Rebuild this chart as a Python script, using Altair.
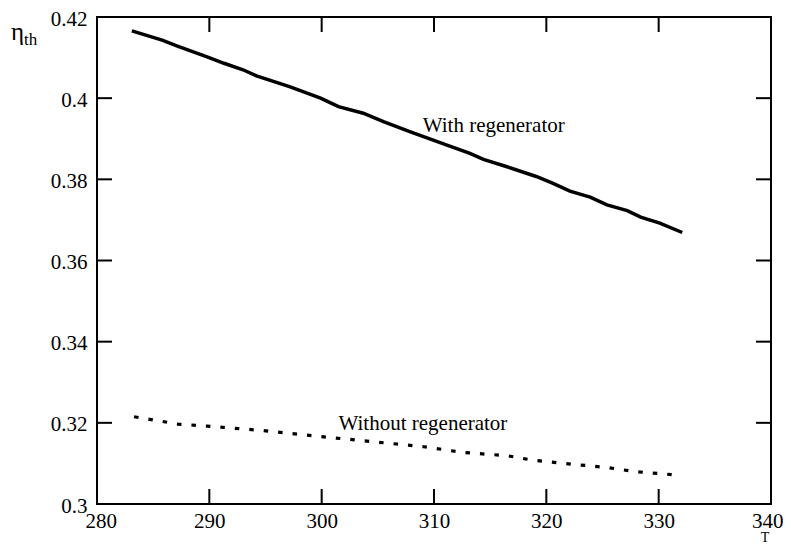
import altair as alt
import pandas as pd

# Data
with_x = [283.1, 285.8, 287.1, 289.8, 291.3, 293.0, 294.2, 297.2, 299.9, 301.5, 303.7, 305.5,
          307.9, 310.3, 311.4, 313.2, 314.4, 316.5, 319.1, 320.6, 322.1, 323.9, 325.4, 327.2,
          328.4, 330.1, 332.1]
with_y = [0.4166, 0.4143, 0.4129, 0.4102, 0.4086, 0.4070, 0.4055, 0.4028, 0.4000, 0.3979, 0.3963,
          0.3942, 0.3917, 0.3893, 0.3882, 0.3864, 0.3849, 0.3831, 0.3807, 0.3790, 0.3771, 0.3756,
          0.3737, 0.3723, 0.3707, 0.3692, 0.3669]
without_x = [283.3, 287.2, 289.8, 294.8, 299.9, 303.7, 309.1, 312.6, 316.5, 318.8, 321.5, 325.4,
             327.8, 331.8]
without_y = [0.3215, 0.3197, 0.3192, 0.3181, 0.3166, 0.3156, 0.3141, 0.3127, 0.3119, 0.3108,
             0.3100, 0.3090, 0.3080, 0.3071]

x_ticks = [280, 290, 300, 310, 320, 330, 340]
y_ticks = [0.30, 0.32, 0.34, 0.36, 0.38, 0.40, 0.42]

label_text = ["With regenerator", "Without regenerator"]
label_x = [309.0, 301.5]
label_y = [0.3917, 0.3182]

W, H = 674, 487
FONT = "Liberation Serif"
FS = 21
TICK = 15

xs = alt.Scale(domain=[280, 340], nice=False, zero=False)
ys = alt.Scale(domain=[0.3, 0.42], nice=False, zero=False)

df_with = pd.DataFrame({"T": with_x, "eta": with_y})
df_without = pd.DataFrame({"T": without_x, "eta": without_y})
df_xt = pd.DataFrame({"T": x_ticks})
df_yt = pd.DataFrame({"eta": y_ticks})
df_lab = pd.DataFrame({"T": label_x, "eta": label_y, "text": label_text})

xaxis = alt.Axis(values=x_ticks, title=None, domain=False, ticks=False, grid=False,
                 labelFont=FONT, labelFontSize=FS, labelColor="black", labelPadding=6,
                 labelFlush=True, labelFlushOffset=12, labelOverlap=False, format="d")
yaxis = alt.Axis(values=y_ticks, title=None, domain=False, ticks=False, grid=False,
                 labelFont=FONT, labelFontSize=FS, labelColor="black", labelPadding=10,
                 labelOverlap=False, format=".2~f", labelOffset=2)

X = lambda: alt.X("T:Q", scale=xs, axis=xaxis)
Y = lambda: alt.Y("eta:Q", scale=ys, axis=yaxis)

solid = alt.Chart(df_with).mark_line(color="black", strokeWidth=3.5).encode(x=X(), y=Y())
dotted = alt.Chart(df_without).mark_line(color="black", strokeWidth=3.2,
                                         strokeDash=[4.5, 10], strokeCap="butt").encode(
    x=X(), y=Y())

tick_style = dict(color="black", strokeWidth=2)
xt_bottom = alt.Chart(df_xt).mark_rule(**tick_style).encode(
    x=X(), y=alt.value(H), y2=alt.value(H - TICK))
xt_top = alt.Chart(df_xt).mark_rule(**tick_style).encode(
    x=X(), y=alt.value(0), y2=alt.value(TICK))
yt_left = alt.Chart(df_yt).mark_rule(**tick_style).encode(
    y=Y(), x=alt.value(0), x2=alt.value(TICK))
yt_right = alt.Chart(df_yt).mark_rule(**tick_style).encode(
    y=Y(), x=alt.value(W), x2=alt.value(W - TICK))

labels = alt.Chart(df_lab).mark_text(font=FONT, fontSize=FS, align="left",
                                     baseline="alphabetic", color="black").encode(
    x=X(), y=Y(), text="text:N")

eta_main = alt.Chart(pd.DataFrame({"t": ["η"]})).mark_text(
    font=FONT, fontSize=25, align="left", baseline="alphabetic", color="black").encode(
    x=alt.value(-86), y=alt.value(23), text="t:N")
eta_sub = alt.Chart(pd.DataFrame({"t": ["th"]})).mark_text(
    font=FONT, fontSize=17, align="left", baseline="alphabetic", color="black").encode(
    x=alt.value(-73), y=alt.value(28), text="t:N")
t_title = alt.Chart(pd.DataFrame({"t": ["T"]})).mark_text(
    font=FONT, fontSize=14, align="center", baseline="bottom", color="black").encode(
    x=alt.value(W - 6), y=alt.value(H + 41), text="t:N")

chart = alt.layer(
    solid, dotted, xt_bottom, xt_top, yt_left, yt_right, labels, eta_main, eta_sub, t_title
).properties(
    width=W, height=H,
    autosize=alt.AutoSizeParams(type="none"),
    padding={"left": 89, "top": 9, "right": 12, "bottom": 42},
    background="white",
).configure_view(stroke="black", strokeWidth=2)

chart.save("out.html", embed_options={"renderer": "svg", "actions": False})
